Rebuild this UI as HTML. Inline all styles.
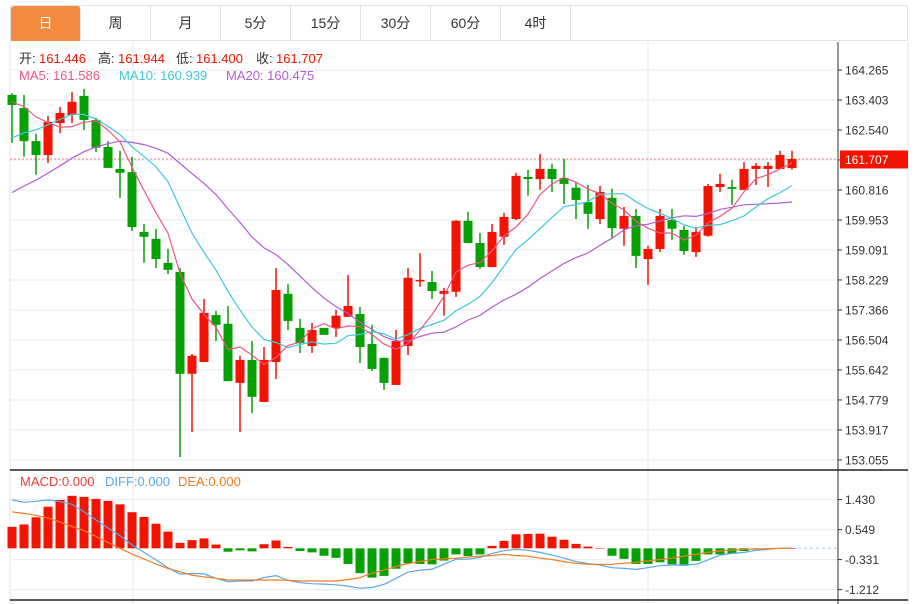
<!DOCTYPE html>
<html><head><meta charset="utf-8">
<style>
body{margin:0;background:#fff;width:914px;height:604px;overflow:hidden;font-family:"Liberation Sans","Noto Sans CJK SC",sans-serif;}
#tabs{position:absolute;left:10px;top:5px;height:36px;width:898px;border:1px solid #dde4ea;border-bottom:1px solid #dde4ea;box-sizing:border-box;display:flex;}
.tab{width:70px;height:35px;line-height:35px;text-align:center;font-size:14px;color:#333;border-right:1px solid #dde4ea;box-sizing:border-box;}
.tab.on{background:#f38b3f;color:#fff;border-radius:3px 3px 0 0;}
svg{position:absolute;left:0;top:0;}
</style></head><body>
<div id="tabs">
<div class="tab on">日</div>
<div class="tab">周</div>
<div class="tab">月</div>
<div class="tab">5分</div>
<div class="tab">15分</div>
<div class="tab">30分</div>
<div class="tab">60分</div>
<div class="tab">4时</div>
</div>
<svg id="c" width="914" height="604"></svg>
<script>
const opens=[163.55,163.17,162.22,161.82,162.74,162.97,163.52,162.83,162.05,161.42,161.33,159.61,159.41,158.72,158.46,155.53,155.87,157.22,156.97,155.27,155.93,154.72,155.87,157.83,156.85,156.33,156.85,156.85,157.17,157.25,156.39,155.99,155.21,156.33,158.20,158.17,157.83,157.89,159.93,159.29,158.60,159.47,159.98,161.19,161.13,161.42,161.16,160.88,160.47,159.98,160.59,159.70,160.07,158.83,159.12,159.95,159.67,159.03,159.50,160.90,160.90,160.82,161.42,161.42,161.42,161.446];
const highs=[163.60,163.55,162.43,162.94,163.20,163.63,163.72,162.89,162.22,161.94,161.77,159.84,159.70,159.12,158.57,156.10,157.68,157.34,157.48,156.05,156.47,156.30,158.57,158.11,157.11,156.99,156.85,157.37,158.37,157.45,156.94,155.99,156.79,158.57,159.00,158.49,158.00,159.95,160.19,159.58,159.84,160.16,161.31,161.39,161.85,161.57,161.71,161.05,160.96,160.93,160.85,160.33,160.27,159.21,160.27,160.27,159.78,159.75,160.99,161.28,161.11,161.62,161.59,161.62,161.94,161.944];
const lows=[162.17,161.77,161.25,161.59,162.45,162.74,162.54,161.91,161.45,160.59,159.64,158.72,158.57,158.40,153.14,153.86,155.87,156.47,155.32,153.86,154.40,154.72,155.38,156.79,156.13,156.13,156.65,156.59,157.17,155.84,155.61,155.07,155.21,156.07,158.03,157.68,157.20,157.74,159.29,158.55,158.60,159.24,159.95,160.65,160.82,160.76,160.41,159.98,159.70,159.84,159.41,159.21,158.57,158.09,159.03,159.38,158.95,158.89,159.47,160.76,160.39,160.82,160.96,160.90,161.42,161.400];
const closes=[163.26,162.22,161.82,162.77,163.03,163.35,162.83,162.03,161.45,161.31,159.75,159.47,158.83,158.52,155.53,156.05,157.28,156.94,155.32,155.93,154.87,155.93,157.94,157.05,156.42,156.79,156.65,157.20,157.48,156.30,155.67,155.27,156.47,158.29,158.23,157.91,157.91,159.93,159.29,158.60,159.61,160.04,161.22,161.13,161.42,161.13,160.99,160.53,160.13,160.76,159.72,160.07,158.92,159.12,160.07,159.70,159.06,159.61,160.93,160.99,160.85,161.42,161.51,161.51,161.82,161.707];
const priorCloses=[158.4,158.5,158.7,158.8,159.0,159.1,159.3,159.6,159.82,160.48,160.7,161.0,161.3,161.5,161.85,162.9,163.3,163.6,163.69];
const macdHist=[0.63,0.70,0.91,1.22,1.42,1.54,1.51,1.45,1.39,1.29,1.06,0.92,0.72,0.49,0.16,0.24,0.29,0.11,-0.10,-0.06,-0.09,0.12,0.23,0.04,-0.08,-0.12,-0.22,-0.28,-0.46,-0.73,-0.86,-0.81,-0.60,-0.44,-0.46,-0.47,-0.36,-0.18,-0.23,-0.18,0.07,0.22,0.41,0.42,0.43,0.34,0.25,0.13,0.05,0.01,-0.22,-0.31,-0.46,-0.46,-0.41,-0.47,-0.51,-0.37,-0.18,-0.18,-0.16,-0.08,-0.02,-0.01,0,0];
const diffLine=[1.42,1.35,1.38,1.42,1.37,1.29,1.07,0.83,0.60,0.37,0.10,-0.12,-0.34,-0.57,-0.76,-0.74,-0.75,-0.88,-0.98,-0.96,-0.96,-0.86,-0.80,-0.94,-1.01,-1.04,-1.05,-1.07,-1.11,-1.17,-1.15,-1.06,-0.88,-0.70,-0.64,-0.61,-0.47,-0.32,-0.32,-0.27,-0.15,-0.07,-0.03,-0.06,-0.12,-0.20,-0.29,-0.39,-0.45,-0.49,-0.57,-0.59,-0.62,-0.57,-0.51,-0.49,-0.49,-0.47,-0.34,-0.20,-0.15,-0.12,-0.06,-0.03,0,0];
const deaLine=[1.07,1.02,0.97,0.89,0.77,0.64,0.52,0.35,0.17,0,-0.17,-0.31,-0.46,-0.59,-0.69,-0.79,-0.84,-0.88,-0.93,-0.93,-0.93,-0.93,-0.93,-0.94,-0.96,-0.96,-0.96,-0.96,-0.92,-0.86,-0.73,-0.64,-0.53,-0.45,-0.39,-0.33,-0.31,-0.29,-0.26,-0.23,-0.21,-0.18,-0.21,-0.23,-0.29,-0.33,-0.39,-0.44,-0.47,-0.47,-0.47,-0.44,-0.41,-0.37,-0.33,-0.29,-0.23,-0.18,-0.12,-0.08,-0.05,-0.03,-0.02,-0.01,0,0];
const priceTicks=["164.265","163.403","162.540","161.678","160.816","159.953","159.091","158.229","157.366","156.504","155.642","154.779","153.917","153.055"];
const macdTicks=["1.430","0.549","-0.331","-1.212"];
const lastPrice=161.707;

const S=document.getElementById('c'),NS='http://www.w3.org/2000/svg';
function mk(t,a,p){const e=document.createElementNS(NS,t);for(const k in a)e.setAttribute(k,a[k]);(p||S).appendChild(e);return e;}
const x=i=>12+12*i;
const y=p=>70+(164.265-p)/0.8625*30;
const ym=v=>548.3-v*30/0.8805;
const RED='#f21300',GRN='#06a003';
// frame & grid
mk('line',{x1:10,y1:42,x2:10,y2:604,stroke:'#dde4ea'});
mk('line',{x1:908,y1:42,x2:908,y2:604,stroke:'#dde4ea'});
[133,648].forEach(v=>mk('line',{x1:v,y1:42,x2:v,y2:604,stroke:'#dde9f2'}));
priceTicks.forEach((t,k)=>{const yy=y(parseFloat(t));
 mk('line',{x1:10,y1:yy,x2:838,y2:yy,stroke:'#e3ebf1'});
 mk('line',{x1:838,y1:yy,x2:842,y2:yy,stroke:'#333'});
 const e=mk('text',{x:845,y:yy+4.5,'font-size':12,fill:'#333'});e.textContent=t;
 });
macdTicks.forEach(t=>{const yy=ym(parseFloat(t));
 mk('line',{x1:10,y1:yy,x2:838,y2:yy,stroke:'#e3ebf1'});
 mk('line',{x1:838,y1:yy,x2:842,y2:yy,stroke:'#333'});
 const e=mk('text',{x:845,y:yy+4.5,'font-size':12,fill:'#333'});e.textContent=t;
 });
mk('line',{x1:838,y1:42,x2:838,y2:604,stroke:'#333'});
mk('line',{x1:10,y1:470,x2:908,y2:470,stroke:'#222','stroke-width':1.5});
mk('line',{x1:10,y1:600,x2:908,y2:600,stroke:'#222','stroke-width':1.5});
// last price line
const ly=y(lastPrice);
mk('line',{x1:10,y1:ly,x2:838,y2:ly,stroke:'#f08080','stroke-dasharray':'2,2'});
const tag=mk('rect',{x:840,y:ly-8.5,width:68,height:18,fill:RED});

const tt=mk('text',{x:845,y:ly+5,'font-size':12,fill:'#fff'});tt.textContent=lastPrice.toFixed(3);
// candles
closes.forEach((c,i)=>{const o=opens[i],up=c>=o,col=up?RED:GRN;
 const g=mk('g',{});
 
 mk('line',{x1:x(i),y1:y(highs[i]),x2:x(i),y2:y(lows[i]),stroke:col,'stroke-width':1.5},g);
 const t=y(Math.max(o,c)),b=y(Math.min(o,c));
 mk('rect',{x:x(i)-4.5,y:t,width:9,height:Math.max(1.5,b-t),fill:col},g);});
// MAs
const all=priorCloses.concat(closes);
function ma(n){return closes.map((_,i)=>{let s=0;const j=i+priorCloses.length;for(let k=j-n+1;k<=j;k++)s+=all[k];return s/n;});}
function line(arr,f,col,name){const d=arr.map((v,i)=>(i?'L':'M')+x(i)+','+f(v).toFixed(1)).join('');
 const p=mk('path',{d:d,fill:'none',stroke:col,'stroke-width':1.2});
 }
line(ma(20),y,'#b15ed0','ma20-line');
line(ma(10),y,'#3fc8dc','ma10-line');
line(ma(5),y,'#ec5683','ma5-line');
// MACD
mk('line',{x1:x(65),y1:ym(0),x2:838,y2:ym(0),stroke:'#9fd4ea','stroke-dasharray':'3,3'});
macdHist.forEach((v,i)=>{const r=mk('rect',{x:x(i)-4.5,y:Math.min(ym(v),ym(0)),width:9,height:Math.max(0.5,Math.abs(ym(v)-ym(0))),fill:v>=0?RED:GRN});
 });
line(diffLine,ym,'#5aa8f0','diff-line');
line(deaLine,ym,'#f47b20','dea-line');
// legends
function txt(xx,yy,s,col,name){const e=mk('text',{x:xx,y:yy,'font-size':13,fill:col});e.textContent=s;
 }
txt(19,63,'开:','#333','open-label');txt(39,63,'161.446',RED,'open-value');
txt(98,63,'高:','#333','high-label');txt(118,63,'161.944',RED,'high-value');
txt(176,63,'低:','#333','low-label');txt(196,63,'161.400',RED,'low-value');
txt(256,63,'收:','#333','close-label');txt(276,63,'161.707',RED,'close-value');
txt(19,80,'MA5: 161.586','#ec5683','ma5-legend');
txt(119,80,'MA10: 160.939','#3fc8dc','ma10-legend');
txt(226,80,'MA20: 160.475','#b15ed0','ma20-legend');
txt(20,486,'MACD:0.000','#f03a3a','macd-legend');
txt(105,486,'DIFF:0.000','#5aa8f0','diff-legend');
txt(178,486,'DEA:0.000','#f47b20','dea-legend');
</script>
</body></html>
